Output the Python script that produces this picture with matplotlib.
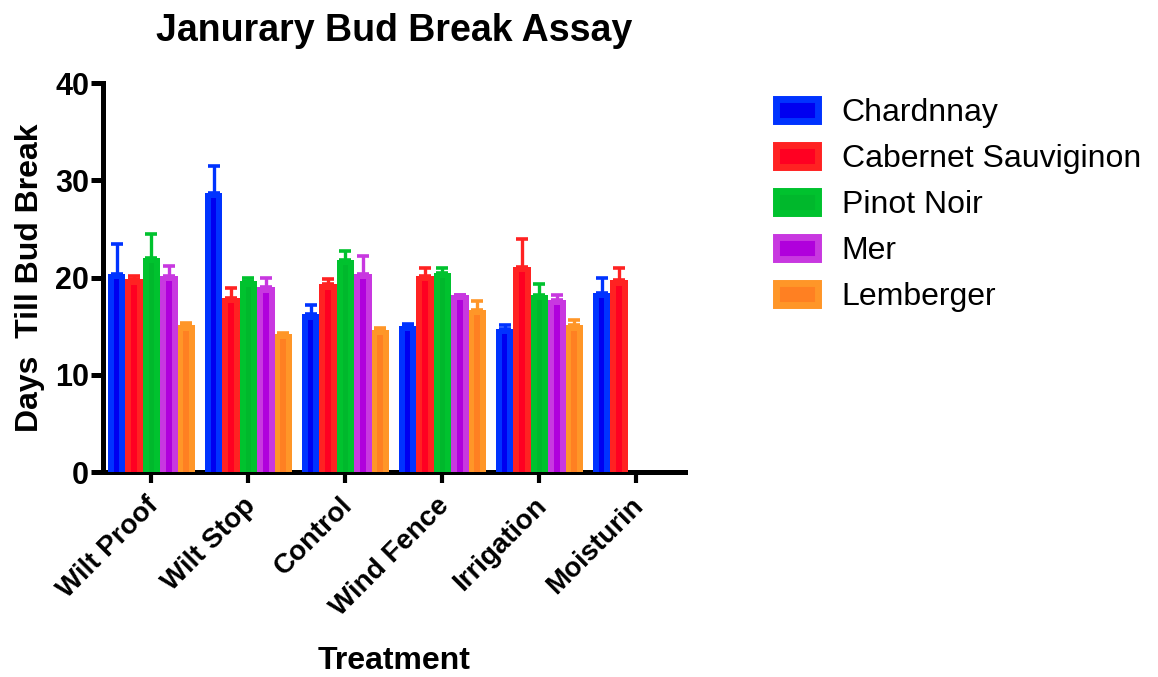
import numpy as np
import matplotlib
matplotlib.use("Agg")
import matplotlib.pyplot as plt
import matplotlib.transforms as mtransforms
from matplotlib.patches import Patch

treatments = ["Wilt Proof", "Wilt Stop", "Control", "Wind Fence", "Irrigation", "Moisturin"]
varieties = ["Chardnnay", "Cabernet Sauviginon", "Pinot Noir", "Mer", "Lemberger"]

chardonnay = [20.4, 28.7, 16.2, 15.0, 14.7, 18.4]
cabernet = [19.8, 17.9, 19.3, 20.2, 21.1, 19.7]
pinot = [22.0, 19.6, 21.8, 20.5, 18.2, np.nan]
mer = [20.2, 19.0, 20.4, 18.2, 17.7, np.nan]
lemberger = [15.1, 14.2, 14.6, 16.7, 15.1, np.nan]

chardonnay_err = [3.0, 2.8, 1.0, 0.2, 0.4, 1.6]
cabernet_err = [0.4, 1.0, 0.5, 0.8, 2.9, 1.3]
pinot_err = [2.5, 0.4, 0.9, 0.5, 1.1, np.nan]
mer_err = [1.0, 0.9, 1.8, 0.0, 0.5, np.nan]
lemberger_err = [0.2, 0.1, 0.2, 0.9, 0.5, np.nan]

values = [chardonnay, cabernet, pinot, mer, lemberger]
errors = [chardonnay_err, cabernet_err, pinot_err, mer_err, lemberger_err]

light = ["#0033FF", "#FF2222", "#00C22E", "#C838E0", "#FF9628"]
dark = ["#0000F0", "#FF0022", "#00B82C", "#B000DC", "#FF8022"]

plt.rcParams['font.family'] = ['Liberation Sans', 'DejaVu Sans']

fig = plt.figure(figsize=(11.58, 6.77), dpi=100)
ax = fig.add_axes([0.0889, 0.3028, 0.5026, 0.5746])

x = np.arange(len(treatments))
bw = 0.18
for i in range(5):
    v = np.array(values[i], dtype=float)
    e = np.array(errors[i], dtype=float)
    pos = x + (i - 2) * bw
    ax.errorbar(pos, v, yerr=[np.zeros_like(e), e], fmt='none', ecolor=light[i],
                elinewidth=2.4, capsize=4, capthick=2.6, zorder=2)
    ax.bar(pos, v, width=bw, color=light[i], edgecolor='none', zorder=3)
    ax.bar(pos, v - 0.55, width=bw / 3, color=dark[i], edgecolor='none', zorder=4)

ax.set_xlim(-0.5, 5.5)
ax.set_ylim(0, 40)
ax.set_yticks([0, 10, 20, 30, 40])
ax.set_xticks(x)

for s in ['top', 'right']:
    ax.spines[s].set_visible(False)
for s in ['left', 'bottom']:
    ax.spines[s].set_linewidth(3.6)
ax.tick_params(axis='y', length=9, width=3.6, pad=1)
ax.tick_params(axis='x', length=8, width=3.0, pad=3)

ax.set_xticklabels(treatments, rotation=45, ha='right', rotation_mode='anchor',
                   fontsize=20, fontweight='bold')
offset = mtransforms.ScaledTranslation(-6 / 100, -5 / 100, fig.dpi_scale_trans)
for lab in ax.get_xticklabels():
    lab.set_transform(lab.get_transform() + offset)
for lab in ax.get_yticklabels():
    lab.set_fontsize(22)
    lab.set_fontweight('bold')

ax.set_ylabel("Days  Till Bud Break", fontsize=23, fontweight='bold', labelpad=7)
ax.set_xlabel("Treatment", fontsize=23, fontweight='bold', labelpad=18)
ax.set_title("Janurary Bud Break Assay", fontsize=27, fontweight='bold', pad=30)

handles = [Patch(facecolor=dark[i], edgecolor=light[i], linewidth=5) for i in range(5)]
fig.legend(handles, varieties, loc='upper left', bbox_to_anchor=(0.6705, 0.855),
           frameon=False, fontsize=23, handlelength=1.31, handleheight=0.72,
           handletextpad=0.73, labelspacing=0.5, borderaxespad=0, borderpad=0)

fig.savefig("out.png", dpi=100)
